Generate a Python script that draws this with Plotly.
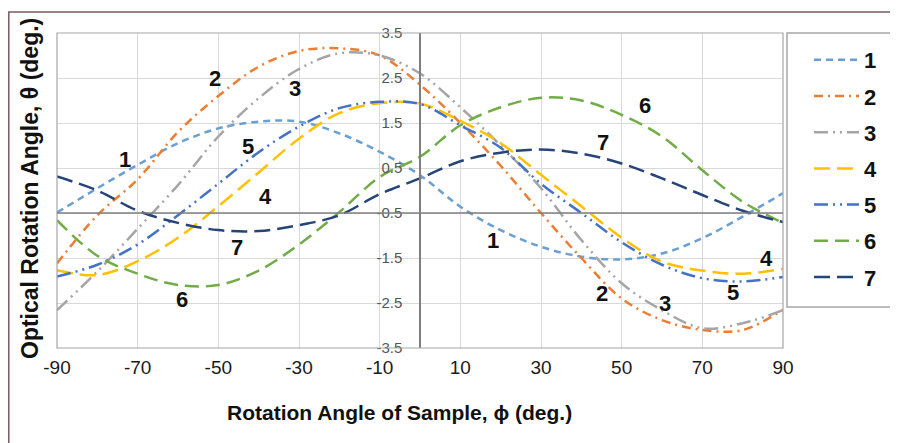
import plotly.graph_objects as go

phi = [-90, -80, -70, -60, -50, -40, -30, -20, -10, 0, 10, 20, 30, 40, 50, 60, 70, 80, 90]

s1 = [-0.49, 0.05, 0.57, 1.05, 1.38, 1.53, 1.53, 1.27, 0.86, 0.34, -0.36, -0.88, -1.25, -1.47, -1.53, -1.40, -1.06, -0.58, -0.06]
s2 = [-1.62, -0.55, 0.25, 1.30, 2.10, 2.75, 3.10, 3.16, 3.00, 2.35, 1.50, 0.55, -0.50, -1.50, -2.40, -2.88, -3.10, -3.10, -2.65]
s3 = [-2.66, -1.80, -0.85, 0.12, 1.20, 2.05, 2.70, 3.05, 3.00, 2.60, 1.85, 1.00, 0.05, -1.10, -2.06, -2.66, -3.06, -2.95, -2.66]
s4 = [-1.77, -1.88, -1.57, -1.05, -0.35, 0.40, 1.15, 1.72, 1.94, 1.93, 1.55, 1.05, 0.35, -0.35, -1.05, -1.58, -1.78, -1.85, -1.74]
s5 = [-1.91, -1.65, -1.20, -0.55, 0.15, 0.85, 1.42, 1.83, 1.97, 1.92, 1.45, 0.95, 0.15, -0.50, -1.15, -1.65, -1.95, -2.02, -1.92]
s6 = [-0.66, -1.45, -1.85, -2.10, -2.10, -1.78, -1.20, -0.48, 0.30, 0.75, 1.45, 1.85, 2.06, 2.00, 1.68, 1.20, 0.45, -0.25, -0.72]
s7 = [0.31, 0.00, -0.45, -0.72, -0.88, -0.90, -0.77, -0.55, -0.08, 0.27, 0.65, 0.84, 0.91, 0.82, 0.60, 0.27, -0.10, -0.45, -0.70]

series_names = ["1", "2", "3", "4", "5", "6", "7"]
series_values = [s1, s2, s3, s4, s5, s6, s7]
series_colors = ["#6a9fd4", "#ed7d31", "#a5a5a5", "#ffc000", "#4472c4", "#70ad47", "#264478"]
series_dash = ["7px,5px", "9px,5px,2px,5px", "14px,5px,2px,5px,2px,5px", "16px,7px",
               "14px,5px,2px,5px,2px,5px", "14px,7px", "16px,7px"]

x_ticks = [-90, -70, -50, -30, -10, 10, 30, 50, 70, 90]
x_ticktext = ["-90", "-70", "-50", "-30", "-10", "10", "30", "50", "70", "90"]
y_ticks = [3.5, 2.5, 1.5, 0.5, -0.5, -1.5, -2.5, -3.5]
y_ticktext = ["3.5", "2.5", "1.5", "0.5", "-0.5", "-1.5", "-2.5", "-3.5"]
axis_cross_y = -0.5

label_text = ["1", "2", "3", "5", "4", "7", "6", "6", "7", "1", "4", "2", "3", "5"]
label_x = [-73.1, -50.8, -31.0, -42.6, -38.4, -45.4, -59.0, 55.8, 45.4, 18.1, 86.0, 45.1, 60.7, 77.7]
label_y = [0.68, 2.49, 2.27, 0.97, -0.14, -1.26, -2.43, 1.90, 1.06, -1.10, -1.50, -2.28, -2.50, -2.26]

# page offset (browser body margin) and plot geometry in screen pixels
OFF = 8
W, H = 890, 435
PL, PT, PW, PH = 57 - OFF, 33 - OFF, 726, 315


def px_x(sx):
    return (sx - OFF - PL) / PW


def px_y(sy):
    return (PT + PH - (sy - OFF)) / PH


fig = go.Figure()
for name, vals, col, dash in zip(series_names, series_values, series_colors, series_dash):
    fig.add_trace(go.Scatter(
        x=phi, y=vals, mode="lines", name=name, legendgroup=name,
        line=dict(color=col, width=2.5, dash=dash, shape="spline", smoothing=1.0),
    ))

for t, lx, ly in zip(label_text, label_x, label_y):
    fig.add_annotation(x=lx, y=ly, xref="x", yref="y", text="<b>" + t + "</b>", showarrow=False,
                       font=dict(family="Liberation Sans, Arial", size=22, color="#111111"))

shapes = [
    dict(type="rect", xref="paper", yref="paper", x0=0, x1=1, y0=0, y1=1,
         line=dict(color="#a6a6a6", width=1.2), layer="above"),
    dict(type="line", xref="paper", yref="y", x0=0, x1=1, y0=axis_cross_y, y1=axis_cross_y,
         line=dict(color="#7f7f7f", width=1.5), layer="above"),
    dict(type="rect", xref="paper", yref="paper", x0=px_x(787), x1=1.25,
         y0=px_y(307), y1=px_y(33), line=dict(color="#a6a6a6", width=1.5)),
    dict(type="rect", xref="paper", yref="paper", x0=px_x(8.8), x1=1.3,
         y0=-0.5, y1=px_y(12), line=dict(color="#7b5a5f", width=1.5)),
]

fig.update_layout(
    width=W, height=H,
    margin=dict(l=PL, r=W - PL - PW, t=PT, b=H - PT - PH, autoexpand=False),
    paper_bgcolor="white", plot_bgcolor="white",
    font=dict(family="Liberation Sans, Arial", color="#111111"),
    shapes=shapes,
    showlegend=True,
    legend=dict(
        x=px_x(809), xanchor="left", y=px_y(39), yanchor="top",
        font=dict(family="Liberation Sans, Arial", size=22, color="#111111", weight="bold"),
        bgcolor="rgba(0,0,0,0)", borderwidth=0, tracegroupgap=4.6, itemwidth=45,
    ),
    xaxis=dict(
        range=[-90, 90], tickmode="array", tickvals=x_ticks, ticktext=x_ticktext,
        showgrid=True, gridcolor="#d9d9d9", gridwidth=1, zeroline=False, showline=False,
        ticks="", tickfont=dict(size=19, color="#1a1a1a"), ticklabelstandoff=6,
        title=dict(text=""),
    ),
    yaxis=dict(
        range=[-3.5, 3.5], tickmode="array", tickvals=y_ticks, ticktext=y_ticktext,
        showgrid=True, gridcolor="#d9d9d9", gridwidth=1, zeroline=False,
        anchor="free", position=0.5, showline=True, linecolor="#7f7f7f", linewidth=1.5,
        ticks="", tickfont=dict(size=15, color="#555555"), ticklabelstandoff=14,
        title=dict(text=""),
    ),
)

fig.add_annotation(
    x=px_x(30), y=px_y(189), xref="paper", yref="paper", xanchor="center", yanchor="middle",
    text="<b>Optical Rotation Angle, θ (deg.)</b>", textangle=-90, showarrow=False,
    font=dict(family="Liberation Sans, Arial", size=23, color="#111111"),
)
fig.add_annotation(
    x=px_x(399), y=px_y(412), xref="paper", yref="paper", xanchor="center", yanchor="middle",
    text="<b>Rotation Angle of Sample, ϕ (deg.)</b>", showarrow=False,
    font=dict(family="Liberation Sans, Arial", size=21, color="#111111"),
)

fig.write_html("out.html")
